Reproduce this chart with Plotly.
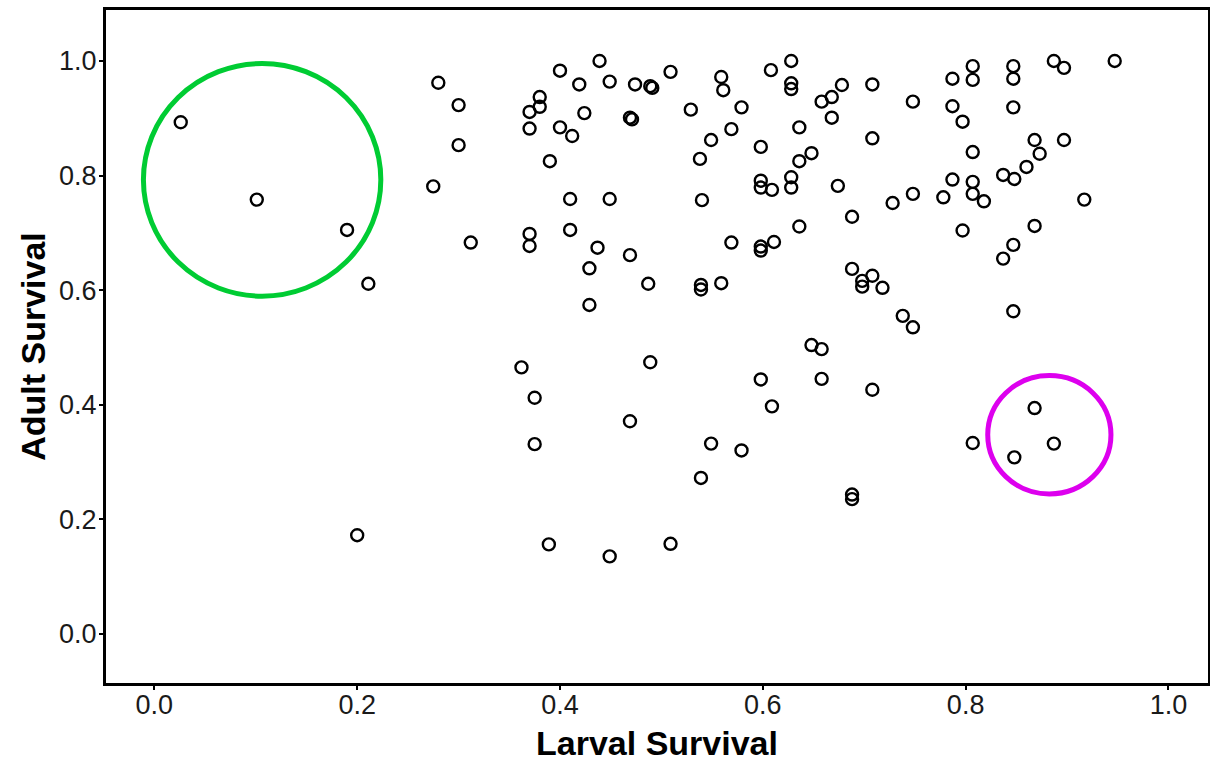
import plotly.graph_objects as go

larval = [0.026, 0.101, 0.190, 0.211, 0.200, 0.275, 0.280, 0.300, 0.300, 0.312,
          0.439, 0.400, 0.419, 0.449, 0.474, 0.489, 0.491, 0.509, 0.380, 0.380,
          0.370, 0.370, 0.400, 0.412, 0.424, 0.469, 0.471, 0.529, 0.549, 0.538,
          0.390, 0.410, 0.449, 0.540,
          0.559, 0.561, 0.579, 0.569, 0.608, 0.628, 0.628, 0.628, 0.678, 0.668,
          0.658, 0.668, 0.708, 0.748, 0.787, 0.787, 0.636, 0.598, 0.708, 0.648,
          0.636, 0.598, 0.598, 0.609, 0.628, 0.628, 0.674, 0.728, 0.748, 0.778,
          0.787, 0.688,
          0.807, 0.807, 0.847, 0.847, 0.887, 0.897, 0.947, 0.797, 0.847, 0.807,
          0.868, 0.897, 0.873, 0.860, 0.837, 0.848, 0.807, 0.807, 0.818, 0.917,
          0.370, 0.370, 0.410, 0.437, 0.469, 0.429, 0.487, 0.539, 0.539, 0.429,
          0.362, 0.489,
          0.569, 0.598, 0.598, 0.611, 0.636, 0.559, 0.688, 0.698, 0.708, 0.698,
          0.718, 0.738, 0.748, 0.648, 0.658, 0.598, 0.658,
          0.797, 0.868, 0.847, 0.837, 0.847,
          0.375, 0.375, 0.469, 0.549, 0.539, 0.389, 0.449, 0.509,
          0.708, 0.609, 0.579, 0.688, 0.688,
          0.807, 0.868, 0.887, 0.848]

adult = [0.893, 0.758, 0.705, 0.611, 0.172, 0.781, 0.962, 0.923, 0.853, 0.683,
         1.000, 0.983, 0.959, 0.964, 0.959, 0.956, 0.953, 0.981, 0.937, 0.920,
         0.911, 0.882, 0.884, 0.869, 0.909, 0.901, 0.898, 0.915, 0.862, 0.829,
         0.825, 0.759, 0.759, 0.757,
         0.972, 0.949, 0.919, 0.881, 0.984, 1.000, 0.961, 0.951, 0.958, 0.937,
         0.929, 0.901, 0.959, 0.929, 0.969, 0.921, 0.884, 0.850, 0.865, 0.839,
         0.825, 0.791, 0.779, 0.775, 0.797, 0.779, 0.782, 0.752, 0.768, 0.762,
         0.793, 0.728,
         0.991, 0.967, 0.991, 0.969, 1.000, 0.988, 1.000, 0.894, 0.919, 0.841,
         0.862, 0.862, 0.838, 0.815, 0.801, 0.794, 0.789, 0.768, 0.755, 0.758,
         0.698, 0.677, 0.705, 0.674, 0.661, 0.638, 0.611, 0.609, 0.601, 0.574,
         0.465, 0.474,
         0.683, 0.676, 0.669, 0.684, 0.711, 0.612, 0.637, 0.616, 0.625, 0.606,
         0.604, 0.555, 0.535, 0.504, 0.497, 0.444, 0.445,
         0.704, 0.712, 0.679, 0.655, 0.563,
         0.412, 0.331, 0.371, 0.332, 0.272, 0.156, 0.135, 0.157,
         0.426, 0.397, 0.320, 0.243, 0.235,
         0.333, 0.394, 0.332, 0.308]

x_ticks = [0.0, 0.2, 0.4, 0.6, 0.8, 1.0]
y_ticks = [0.0, 0.2, 0.4, 0.6, 0.8, 1.0]
x_tick_labels = ["0.0", "0.2", "0.4", "0.6", "0.8", "1.0"]
y_tick_labels = ["0.0", "0.2", "0.4", "0.6", "0.8", "1.0"]

# highlight circles (data coordinates: x0, x1, y0, y1)
green_circle = [-0.0108, 0.2233, 0.5894, 0.9956]
magenta_circle = [0.8218, 0.9433, 0.2441, 0.4507]

fig = go.Figure()
fig.add_trace(go.Scatter(
    x=larval, y=adult, mode="markers",
    marker=dict(symbol="circle-open", size=12, color="black",
                line=dict(width=2.4, color="black")),
    showlegend=False, hoverinfo="x+y"))

for c, col in [(green_circle, "#00CC33"), (magenta_circle, "#DD00EE")]:
    fig.add_shape(type="circle", xref="x", yref="y",
                  x0=c[0], x1=c[1], y0=c[2], y1=c[3],
                  line=dict(color=col, width=5))

font_family = "Liberation Sans, Arial, sans-serif"
axis_common = dict(
    showgrid=False, zeroline=False, showline=True, linecolor="black",
    linewidth=3, mirror=True, ticks="outside", ticklen=4, tickwidth=2,
    tickcolor="black", automargin=False,
    tickfont=dict(family=font_family, size=27, color="#1a1a1a"),
)

fig.update_xaxes(range=[-0.0477, 1.039], tickvals=x_ticks,
                 ticktext=x_tick_labels, ticklabelstandoff=-8,
                 title=dict(text="<b>Larval Survival</b>", standoff=22,
                            font=dict(family=font_family, size=34, color="black")),
                 **axis_common)
fig.update_yaxes(range=[-0.086, 1.089], tickvals=y_ticks,
                 ticktext=y_tick_labels, ticklabelstandoff=-3,
                 title=dict(text="<b>Adult Survival</b>", standoff=4,
                            font=dict(family=font_family, size=34, color="black")),
                 **axis_common)

fig.update_layout(
    width=1210, height=762,
    margin=dict(l=106, r=2, t=10, b=79),
    plot_bgcolor="white", paper_bgcolor="white",
)

fig.write_html("out.html")
